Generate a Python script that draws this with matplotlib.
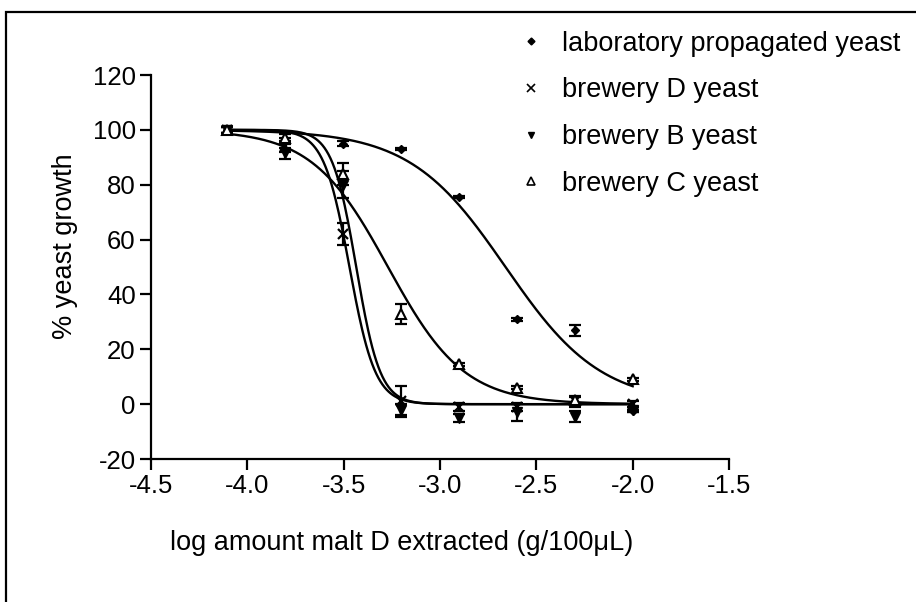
import numpy as np
import matplotlib
matplotlib.use('Agg')
from matplotlib import pyplot as plt
from matplotlib.lines import Line2D
from matplotlib.patches import Rectangle

plt.rcParams['font.family'] = ['Liberation Sans', 'DejaVu Sans']
plt.rcParams['axes.unicode_minus'] = False

# dose series (log g/100uL), halving dilutions
log_dose = [-4.107, -3.806, -3.505, -3.204, -2.903, -2.602, -2.301, -2.0]

lab = [100, 96, 95, 93, 75.5, 31, 27, -2.5]
lab_err = [1, 1, 1, 0.5, 0.5, 0.5, 2, 0.5]
brew_d = [100, 94, 62, 1, -1, -1, 1, 0]
brew_d_err = [1, 2, 4, 5.5, 1.5, 1.5, 2, 1]
brew_b = [100, 91.5, 80, -2, -5, -3, -4.5, -2]
brew_b_err = [1, 2, 5, 2, 1.5, 3, 2, 1]
brew_c = [100, 97, 84, 33, 14.5, 6, 1.5, 9]
brew_c_err = [1, 1.5, 4, 3.6, 0.5, 0.5, 1, 0.5]

# sigmoidal dose-response fits: top, bottom, logEC50, hill slope
fit_lab = (100, 0, -2.66, 1.75)
fit_d = (100, 0, -3.47, 6.5)
fit_b = (100, 0, -3.435, 7.0)
fit_c = (100, 0, -3.27, 2.2)

labels = ['laboratory propagated yeast', 'brewery D yeast',
          'brewery B yeast', 'brewery C yeast']


def dose_response(x, top, bottom, ec50, hill):
    return bottom + (top - bottom) / (1 + 10 ** ((x - ec50) * hill))


fig = plt.figure(figsize=(9.16, 6.02), dpi=100)
ax = fig.add_axes([0.1649, 0.2375, 0.631, 0.6379])

xs = np.linspace(log_dose[0], log_dose[-1], 400)
for p in [fit_lab, fit_d, fit_b, fit_c]:
    ax.plot(xs, dose_response(xs, *p), c='black', lw=1.7, zorder=2)

styles = [
    (lab, lab_err, dict(marker='D', ms=4.2, mfc='black', mec='black')),
    (brew_d, brew_d_err, dict(marker='x', ms=6.5, mec='black', mew=1.6)),
    (brew_b, brew_b_err, dict(marker='v', ms=6.5, mfc='black', mec='black')),
    (brew_c, brew_c_err, dict(marker='^', ms=7, mfc='white', mec='black', mew=1.5)),
]
for vals, err, st in styles:
    ax.errorbar(log_dose, vals, yerr=err, fmt='none', ecolor='black',
                elinewidth=1.6, capsize=4, capthick=1.6, zorder=3)
    ax.plot(log_dose, vals, ls='none', zorder=4, **st)

ax.set_xlim(-4.5, -1.5)
ax.set_ylim(-20, 120)
ax.set_xticks(np.arange(-4.5, -1.49, 0.5))
ax.set_yticks(np.arange(-20, 121, 20))
ax.set_xticklabels(['-4.5', '-4.0', '-3.5', '-3.0', '-2.5', '-2.0', '-1.5'])
ax.spines['top'].set_visible(False)
ax.spines['right'].set_visible(False)
for s in ['left', 'bottom']:
    ax.spines[s].set_linewidth(1.6)
ax.tick_params(axis='both', labelsize=18.5, width=1.6, length=8, pad=3)

fig.text(402 / 916, 1 - 543 / 602, 'log amount malt D extracted (g/100\u03bcL)',
         fontsize=19.5, ha='center', va='center')
fig.text(65 / 916, 1 - 246 / 602, '% yeast growth', fontsize=19.5,
         rotation=90, ha='center', va='center')

handles = [
    Line2D([], [], ls='none', marker='D', ms=3.5, mfc='black', mec='black'),
    Line2D([], [], ls='none', marker='x', ms=6, mec='black', mew=1.2),
    Line2D([], [], ls='none', marker='v', ms=5, mfc='black', mec='black'),
    Line2D([], [], ls='none', marker='^', ms=6, mfc='white', mec='black', mew=1.2),
]
fig.legend(handles, labels, loc='upper left', bbox_to_anchor=(505 / 916, 1 - 20 / 602),
           frameon=False, fontsize=19.5, handlelength=1.1, handletextpad=0.6,
           labelspacing=0.76, borderaxespad=0)

fig.patches.append(Rectangle((6 / 916, -0.05), 1.2, 1 - 12 / 602 + 0.05,
                             transform=fig.transFigure, fill=False,
                             ec='black', lw=1.6))

fig.savefig('out.png', dpi=100)
